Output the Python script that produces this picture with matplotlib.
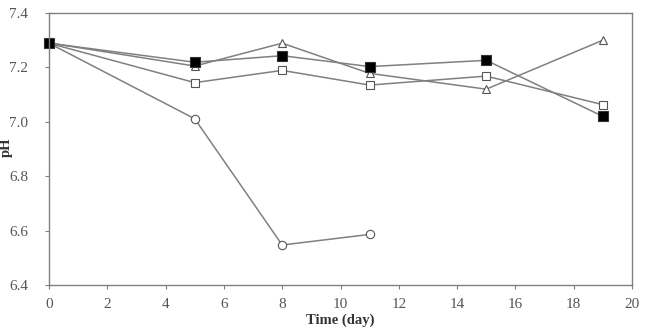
import matplotlib
matplotlib.use('Agg')
import matplotlib.pyplot as plt

plt.rcParams['font.family'] = ['Liberation Serif', 'DejaVu Serif']

# Sampling days and pH readings per treatment
days = [0, 5, 8, 11, 15, 19]
days_circle = [0, 5, 8, 11]
ph_triangle = [7.29, 7.205, 7.289, 7.178, 7.12, 7.30]
ph_filled_sq = [7.289, 7.219, 7.243, 7.203, 7.226, 7.02]
ph_open_sq = [7.289, 7.144, 7.189, 7.135, 7.168, 7.063]
ph_circle = [7.289, 7.011, 6.547, 6.586]

line_col = '#808080'
fig = plt.figure(figsize=(6.46, 3.29), dpi=100)
ax = fig.add_axes([49/646, 1 - 285/329, (632 - 49)/646, (285 - 13)/329])

ax.plot(days_circle, ph_circle, color=line_col, lw=1.1, marker='o', ms=6,
        mfc='white', mec='#555555', mew=0.8, clip_on=False)
ax.plot(days, ph_open_sq, color=line_col, lw=1.1, marker='s', ms=6,
        mfc='white', mec='#555555', mew=0.8, clip_on=False)
ax.plot(days, ph_triangle, color=line_col, lw=1.1, marker='^', ms=6,
        mfc='white', mec='#555555', mew=0.8, clip_on=False)
ax.plot(days, ph_filled_sq, color=line_col, lw=1.1, marker='s', ms=6.5,
        mfc='black', mec='#333333', mew=0.8, clip_on=False)

ax.set_xlim(0, 20)
ax.set_ylim(6.4, 7.4)
ax.set_xticks(range(0, 21, 2))
ax.set_yticks([6.4, 6.6, 6.8, 7.0, 7.2, 7.4])
ax.set_yticklabels(['6.4', '6.6', '6.8', '7.0', '7.2', '7.4'])
for s in ax.spines.values():
    s.set_color('#808080')
    s.set_linewidth(1.0)
ax.tick_params(colors='#808080', labelcolor='#555555', labelsize=11,
               direction='out', length=3)
ax.tick_params(axis='y', pad=12)
ax.tick_params(axis='x', pad=6)
ax.set_xlabel('Time (day)', fontweight='bold', fontsize=10.5, color='#333333')
ax.set_ylabel('pH', fontweight='bold', fontsize=10.5, color='#333333')
ax.xaxis.set_label_coords((340 - 49)/583, -(314 - 285)/272)
ax.yaxis.set_label_coords(-(49 - 13)/583, (285 - 147)/272)

fig.savefig('out.png', dpi=100)
